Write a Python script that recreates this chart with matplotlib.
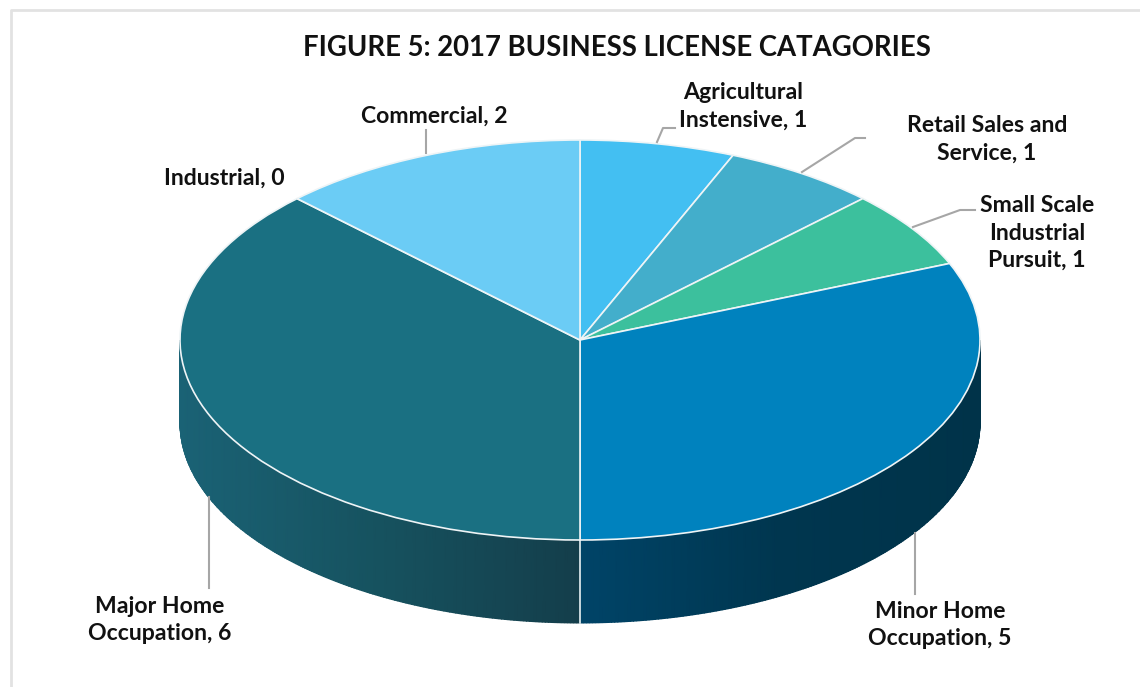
import numpy as np
import matplotlib.pyplot as plt
from matplotlib.colors import LinearSegmentedColormap

categories = ["Agricultural\nInstensive", "Retail Sales and\nService", "Small Scale\nIndustrial\nPursuit",
              "Minor Home\nOccupation", "Major Home\nOccupation", "Industrial", "Commercial"]
licenses = [1, 1, 1, 5, 6, 0, 2]
colors = ["#43bff2", "#43aecb", "#3cc09d", "#0082be", "#1a7082", "#17566b", "#6bccf5"]

# label centres and leader lines, in pixels of the picture
label_pos = [(743, 106), (987, 139), (1037, 233), (940, 625), (160, 620), (224, 178), (434, 116)]
leaders = [
    [(657, 142), (663, 128), (675, 128)],
    [(802, 172), (855, 138), (865, 138)],
    [(913, 227), (960, 210), (975, 210)],
    [(915, 533), (915, 594)],
    [(209, 497), (209, 588)],
    [],
    [(426, 153), (426, 130)],
]

plt.rcParams['font.family'] = ['Lato', 'DejaVu Sans']
fig = plt.figure(figsize=(11.4, 6.87), dpi=100)

# pie axes: radius 1 is 400 px across and 200 px down, which gives the tilt
ax = fig.add_axes([0, 0, 1, 1])
ax.pie(licenses, colors=colors, startangle=90, counterclock=False,
       wedgeprops={'edgecolor': '#eef4f6', 'linewidth': 1.2, 'zorder': 3})
ax.set_aspect('auto')
ax.set_xlim(-580 / 400, 560 / 400)
ax.set_ylim(-347 / 200, 340 / 200)
depth = 83 / 200

# side walls, only the part of each slice facing the viewer
wall_cmaps = {
    3: LinearSegmentedColormap.from_list('minor', ["#004468", "#00364f", "#003349"]),
    4: LinearSegmentedColormap.from_list('major', ["#143e4b", "#16525f", "#1a6275"]),
}
edges = np.cumsum([0] + licenses) / sum(licenses) * 2 * np.pi
for i, cmap in wall_cmaps.items():
    a = np.linspace(max(edges[i], np.pi / 2), min(edges[i + 1], 3 * np.pi / 2), 200)
    x = np.sin(a)
    y = np.cos(a)
    X = np.vstack([x, x])
    Y = np.vstack([y, y - depth])
    shade = np.abs(x)
    ax.pcolormesh(X, Y, np.vstack([shade, shade]), cmap=cmap, shading='gouraud', zorder=1)
ax.plot([0, 0], [-1, -1 - depth], color='#d5e3e8', lw=1.3, zorder=2)

# pixel overlay for frame, labels, leaders
ov = fig.add_axes([0, 0, 1, 1], facecolor='none')
ov.set_xlim(0, 1140)
ov.set_ylim(687, 0)
ov.axis('off')
ov.plot([10.5, 10.5, 1140], [687, 9.5, 9.5], color='#e2e2e2', lw=2, clip_on=False)

for line in leaders:
    if line:
        ov.plot(*zip(*line), color='#a6a6a6', lw=1.5)
for name, n, (px, py) in zip(categories, licenses, label_pos):
    ov.text(px, py, f"{name}, {n}", ha='center', va='center', fontsize=16.6, fontweight='bold',
            color='#111111', linespacing=1.38, multialignment='center')
ov.text(617, 48, "FIGURE 5: 2017 BUSINESS LICENSE CATAGORIES", ha='center', va='center',
        fontsize=19.8, fontweight='bold', color='#111111')

fig.savefig('out.png', dpi=100)
